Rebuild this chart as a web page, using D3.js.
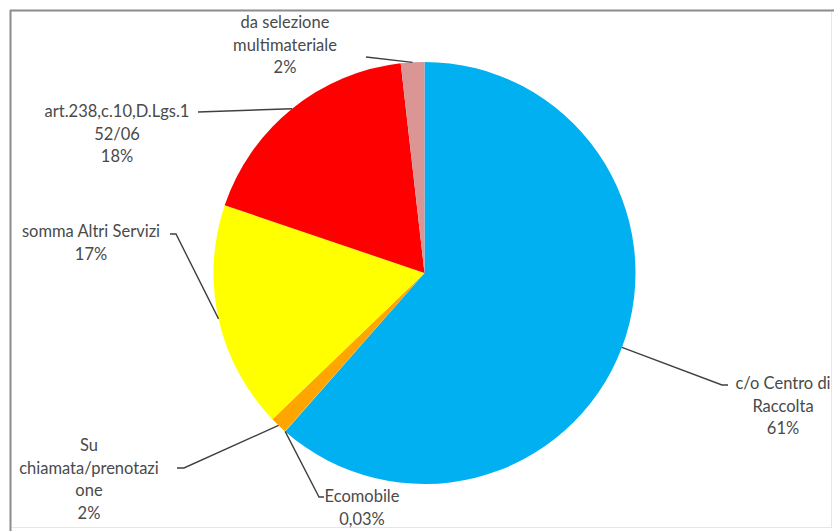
<!DOCTYPE html>
<html>
<head>
<meta charset="utf-8">
<script src="https://cdn.jsdelivr.net/npm/d3@7/dist/d3.min.js"></script>
<style>
  html, body { margin: 0; padding: 0; background: #fff; }
  svg { display: block; }
  text { font-family: Lato, "Open Sans", sans-serif; fill: #4a4a4a; }
</style>
</head>
<body>
<svg id="chart" width="836" height="531"></svg>
<script>
// ---- data ----
const categories = ["c/o Centro di Raccolta", "Ecomobile", "Su chiamata/prenotazione", "somma Altri Servizi", "art.238,c.10,D.Lgs.152/06", "da selezione multimateriale"];
const values = [61.5, 0.03, 1.3, 17.4, 18.0, 1.8];
const percentLabels = ["61%", "0,03%", "2%", "17%", "18%", "2%"];
const labelLines = [
  ["c/o Centro di", "Raccolta"],
  ["Ecomobile"],
  ["Su", "chiamata/prenotazi", "one"],
  ["somma Altri Servizi"],
  ["art.238,c.10,D.Lgs.1", "52/06"],
  ["da selezione", "multimateriale"]
];
const colors = ["#00B0F0", "#FFC000", "#FFA500", "#FFFF00", "#FF0000", "#D99694"];

// ---- layout ----
const W = 836, H = 531;
const cx = 424.5, cy = 273, R = 211;
const lineH = 22.5;
const fontSize = 16.5;
// label block: centre x, first baseline y, leader end (x,y) and hook length
const labelLayout = [
  { x: 783, y: 389, lx: 722, ly: 385, hook: 6 },
  { x: 362, y: 502, lx: 319, ly: 497, hook: 5 },
  { x: 89,  y: 451, lx: 184, ly: 468, hook: -7 },
  { x: 91,  y: 237, lx: 176, ly: 234, hook: -6 },
  { x: 117, y: 117, lx: 198, ly: 112, hook: 0 },
  { x: 285, y: 28,  lx: 366, ly: 57,  hook: 0 }
];

const svg = d3.select("#chart");

// border
svg.append("line").attr("x1", 10).attr("y1", 10.5).attr("x2", 834).attr("y2", 10.5).attr("stroke", "#8c8c8c").attr("stroke-width", 2);
svg.append("line").attr("x1", 10.5).attr("y1", 10).attr("x2", 10.5).attr("y2", 531).attr("stroke", "#8c8c8c").attr("stroke-width", 2);
svg.append("line").attr("x1", 12).attr("y1", 527.5).attr("x2", 832).attr("y2", 527.5).attr("stroke", "#e6e6e6").attr("stroke-width", 1);
svg.append("line").attr("x1", 831.5).attr("y1", 12).attr("x2", 831.5).attr("y2", 528).attr("stroke", "#e6e6e6").attr("stroke-width", 1);

const pie = d3.pie().sort(null).value(d => d)(values);
const arc = d3.arc().innerRadius(0).outerRadius(R);

const g = svg.append("g").attr("transform", `translate(${cx},${cy})`);
g.selectAll("path.slice").data(pie).join("path")
  .attr("class", "slice")
  .attr("d", arc)
  .attr("fill", (d, i) => colors[i]);

// leader lines
const leaderStart = (d, i) => {
  let a = (d.startAngle + d.endAngle) / 2;
  if (i === 1) a = d.startAngle;
  return [cx + Math.sin(a) * R, cy - Math.cos(a) * R];
};
const lineGen = d3.line();
pie.forEach((d, i) => {
  const L = labelLayout[i];
  const s = leaderStart(d, i);
  const pts = [s, [L.lx, L.ly]];
  if (L.hook) pts.push([L.lx + L.hook, L.ly]);
  svg.append("path")
    .attr("d", lineGen(pts))
    .attr("fill", "none")
    .attr("stroke", "#404040")
    .attr("stroke-width", 1.4);
});

// labels
labelLayout.forEach((L, i) => {
  const lines = labelLines[i].concat([percentLabels[i]]);
  const t = svg.append("text")
    .attr("text-anchor", "middle")
    .attr("font-size", fontSize);
  lines.forEach((s, k) => {
    t.append("tspan").attr("x", L.x).attr("y", L.y + k * lineH).text(s);
  });
});
</script>
</body>
</html>
